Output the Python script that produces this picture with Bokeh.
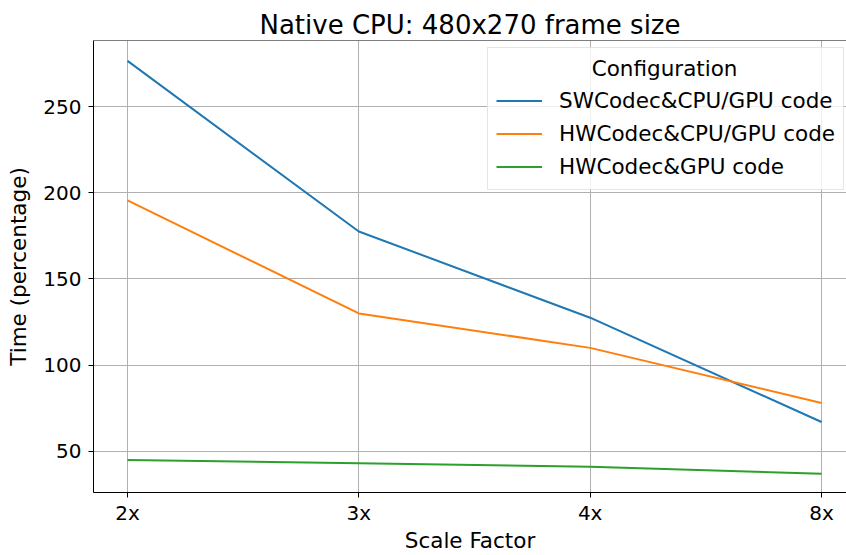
from bokeh.plotting import figure
from bokeh.models import Range1d, FixedTicker, Legend, LegendItem, Span
from bokeh.embed import file_html
from bokeh.resources import INLINE

scales = ["2x", "3x", "4x", "8x"]
sw_cpu_gpu = [276.5, 177.5, 127.5, 67.0]
hw_cpu_gpu = [195.5, 130.0, 110.0, 78.0]
hw_gpu = [45.0, 43.0, 41.0, 37.0]
y_ticks = [50, 100, 150, 200, 250]
series_names = ["SWCodec&CPU/GPU code", "HWCodec&CPU/GPU code", "HWCodec&GPU code"]
legend_title = "Configuration"
colors = ["#1f77b4", "#ff7f0e", "#2ca02c"]

FONT = "DejaVu Sans"
xs = list(range(len(scales)))

p = figure(
    width=846, height=555,
    x_range=Range1d(-0.147, 3.108), y_range=Range1d(26.1, 288.3),
    output_backend="svg", toolbar_location=None,
    min_border_left=93, min_border_right=0, min_border_top=40, min_border_bottom=60,
)
p.background_fill_color = "white"
p.border_fill_color = "white"
p.outline_line_color = None

p.title.text = "Native CPU: 480x270 frame size"
p.title.text_font = FONT
p.title.text_font_size = "26px"
p.title.text_font_style = "normal"
p.title.text_color = "black"
p.title.align = "center"
p.title.offset = 4
p.title.standoff = 2

renderers = []
for vals, c in zip([sw_cpu_gpu, hw_cpu_gpu, hw_gpu], colors):
    r = p.line(xs, vals, line_color=c, line_width=2)
    renderers.append(r)

# axes
p.xaxis.ticker = FixedTicker(ticks=xs)
p.xaxis.major_label_overrides = {i: s for i, s in enumerate(scales)}
p.yaxis.ticker = FixedTicker(ticks=y_ticks)
for ax in (p.xaxis, p.yaxis):
    ax.major_label_text_font = FONT
    ax.major_label_text_font_size = "20px"
    ax.major_label_text_color = "black"
    ax.axis_label_text_font = FONT
    ax.axis_label_text_font_size = "21.5px"
    ax.axis_label_text_font_style = "normal"
    ax.axis_label_text_color = "black"
    ax.major_tick_out = 5
    ax.major_tick_in = 0
    ax.minor_tick_out = 0
    ax.minor_tick_in = 0
    ax.major_tick_line_color = "black"
    ax.axis_line_color = "black"
p.xaxis.major_label_standoff = 3
p.xaxis.axis_label_standoff = 0
p.yaxis.major_label_standoff = 7
p.yaxis.axis_label_standoff = 9
p.xaxis.axis_label = "Scale Factor"
p.yaxis.axis_label = "Time (percentage)"

# top spine
p.add_layout(Span(location=p.y_range.end, dimension="width", line_color="black", line_width=1))

p.xgrid.grid_line_color = "#b0b0b0"
p.ygrid.grid_line_color = "#b0b0b0"
p.xgrid.grid_line_width = 1
p.ygrid.grid_line_width = 1

legend = Legend(
    items=[LegendItem(label=n, renderers=[r]) for n, r in zip(series_names, renderers)],
    location=(394, 302),
    title="\u00a0" * 14 + legend_title,
)
legend.title_text_font = FONT
legend.title_text_font_size = "21.5px"
legend.title_text_font_style = "normal"
legend.title_text_color = "black"
legend.label_text_font = FONT
legend.label_text_font_size = "21.5px"
legend.label_text_color = "black"
legend.glyph_width = 46
legend.glyph_height = 29
legend.label_height = 29
legend.label_standoff = 17
legend.spacing = 4
legend.padding = 8
legend.border_line_color = "#cccccc"
legend.border_line_width = 1
legend.background_fill_alpha = 0.8
legend.margin = 0
p.add_layout(legend)

open("out.html", "w").write(file_html(p, INLINE))
